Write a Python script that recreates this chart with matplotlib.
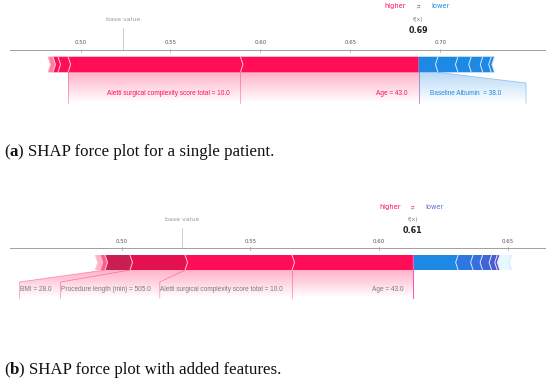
"""
Two SHAP force plots (single patient, then with added features) with
figure captions underneath each, drawn with plain matplotlib patches.
"""
import matplotlib
matplotlib.use("Agg")
import matplotlib.pyplot as plt
import numpy as np
from matplotlib.patches import Polygon

# ── data ──
TOP_FX = 0.688
TOP_BASE = 0.5238
TOP_TICKS = [0.50, 0.55, 0.60, 0.65, 0.70]
TOP_POS_LABELS = ["Age = 43.0", "Aletti surgical complexity score total = 10.0"]
TOP_POS_EFFECTS = [0.0991, 0.0958, 0.0056, 0.0028, 0.0028]
TOP_NEG_LABELS = ["Baseline Albumin  = 38.0"]
TOP_NEG_EFFECTS = [0.0107, 0.0111, 0.0074, 0.0064, 0.0047, 0.0018]

BOT_FX = 0.6132
BOT_BASE = 0.5235
BOT_TICKS = [0.50, 0.55, 0.60, 0.65]
BOT_POS_LABELS = ["Age = 43.0", "Aletti surgical complexity score total = 10.0",
                  "Procedure length (min) = 505.0", "BMI = 28.0"]
BOT_POS_EFFECTS = [0.0470, 0.0416, 0.0214, 0.0097, 0.0019, 0.0019]
BOT_NEG_LABELS = []
BOT_NEG_EFFECTS = [0.0176, 0.0058, 0.0037, 0.0035, 0.0022, 0.0010, 0.0045]

CAPTIONS = [("a", " SHAP force plot for a single patient."),
            ("b", " SHAP force plot with added features.")]

RED, BLUE = "#ff0d57", "#1e88e5"
W, H = 550, 385
LABEL_FONT = dict(family="Liberation Sans", fontsize=4.7)

fig = plt.figure(figsize=(W / 100, H / 100), dpi=100)
renderer = fig.canvas.get_renderer()


def make_axes(row0, row1, px0, v0, scale):
    # axes covering the full width; x in model-output units, y in pixel rows
    ax = fig.add_axes([0, 1 - row1 / H, 1, (row1 - row0) / H])
    ax.set_xlim(v0 - px0 / scale, v0 + (W - px0) / scale)
    ax.set_ylim(row1, row0)
    ax.axis("off")
    return ax


def draw_bars(ax, fx, effects, sign, colors, sep, g, scale):
    d = 2.5 / scale
    top, bot = g["bar"]
    mid = (top + bot) / 2
    pos = fx
    bounds = []
    for i, eff in enumerate(effects):
        nxt = pos - sign * eff
        tip = 0 if i == 0 else d
        if sign > 0:
            pts = [(nxt, top), (pos, top), (pos + tip, mid), (pos, bot),
                   (nxt, bot), (nxt + d, mid)]
        else:
            pts = [(pos, top), (nxt, top), (nxt - d, mid), (nxt, bot),
                   (pos, bot), (pos - tip, mid)]
        ax.add_patch(Polygon(pts, closed=True, facecolor=colors[i],
                             edgecolor="none", zorder=3))
        if i > 0:
            bounds.append(pos)
        pos = nxt
    bounds.append(pos)
    for b in bounds:
        ax.plot([b, b + sign * d, b], [top, mid, bot], color=sep, lw=0.7,
                zorder=4, solid_capstyle="butt")


def draw_labels(ax, fx, effects, labels, sign, color, tcolor, g, scale):
    off = g["off"] / scale
    pad = g["box_pad"] / scale
    _, bar_bot = g["bar"]
    slant, lab_y, lab_bot = g["slant"], g["lab"], g["lab_bot"]
    lc = dict(color=color, lw=0.6, alpha=0.4, zorder=2)
    ax.plot([fx, fx], [bar_bot, lab_bot], **lc)
    start, pre, box_end = fx, fx, fx
    inv = ax.transData.inverted()
    for eff, lab in zip(effects, labels):
        val = pre - sign * eff
        t = ax.text(start - sign * off, lab_y, lab, color=tcolor,
                    ha="right" if sign > 0 else "left", va="center", zorder=5,
                    **LABEL_FONT)
        bb = t.get_window_extent(renderer).transformed(inv)
        end_ = bb.x0 if sign > 0 else bb.x1
        if sign * (end_ - sign * pad) > sign * val:
            ax.plot([val, val], [bar_bot, lab_bot], **lc)
            start = box_end = val
        else:
            box_end = end_ - sign * pad
            ax.plot([val, box_end, box_end], [bar_bot, slant, lab_bot], **lc)
            start = box_end
        pre = val
    if not labels:
        return
    poly = Polygon([(fx, bar_bot), (pre, bar_bot), (box_end, slant),
                    (box_end, lab_bot), (fx, lab_bot)], closed=True,
                   facecolor="none", edgecolor="none")
    ax.add_patch(poly)
    rgb = matplotlib.colors.to_rgb(color)
    grad = np.zeros((60, 1, 4))
    grad[..., :3] = rgb
    grad[:, 0, 3] = np.linspace(0.32, 0.0, 60)
    im = ax.imshow(grad, extent=[min(fx, box_end), max(fx, box_end), lab_bot, bar_bot],
                   origin="upper", aspect="auto", interpolation="bilinear", zorder=1)
    im.set_clip_path(poly)


def force_panel(g, fx, base, ticks, pos_eff, pos_lab, neg_eff, neg_lab, st):
    scale = g["scale"]
    ax = make_axes(g["rows"][0], g["rows"][1], g["px0"], g["v0"], scale)
    ax.set_autoscale_on(False)
    # axis line + ticks
    ax.plot([10 / W, 545 / W], [g["axis"], g["axis"]], color="#a0a0a0", lw=0.7,
            transform=ax.get_yaxis_transform(), zorder=2)
    for tv in ticks:
        ax.plot([tv, tv], [g["axis"] - 1.5, g["axis"] + 1.5], color="#a0a0a0", lw=0.5)
        ax.text(tv, g["tick"], f"{tv:.2f}", fontsize=3.9, color="#555555",
                ha="center", va="center")
    # base value marker
    ax.plot([base, base], [g["base"] + 9, g["axis"]], color="#bbbbbb", lw=0.5, zorder=1)
    ax.text(base, g["base"], "base value", fontsize=4.5, color="#999999",
            ha="center", va="center")
    # f(x) and higher/lower legend
    ax.text(fx, g["fx"], "f(x)", fontsize=4.5, color="#888888", ha="center", va="center")
    ax.text(fx, g["val"], f"{fx:.2f}", fontsize=5.8, fontweight="bold", color="#222222",
            ha="center", va="center")
    hp = 12.5 / scale
    ax.text(fx - hp, g["hl"], "higher", fontsize=4.8, color=RED, ha="right", va="center")
    ax.text(fx + hp, g["hl"], "lower", fontsize=4.8, color=st["lower"], ha="left", va="center")
    ax.text(fx, g["hl"] - 1.2, "→", fontsize=3.0, color=RED, ha="center", va="center")
    ax.text(fx, g["hl"] + 1.4, "←", fontsize=3.0, color=BLUE, ha="center", va="center")
    # bars
    draw_bars(ax, fx, pos_eff, 1, st["pos_colors"], "#ffc3d5", g, scale)
    draw_bars(ax, fx, neg_eff, -1, st["neg_colors"], "#d1e6fa", g, scale)
    # labels with shaded connector areas
    draw_labels(ax, fx, pos_eff, pos_lab, 1, RED, st["pos_text"], g, scale)
    draw_labels(ax, fx, neg_eff, neg_lab, -1, BLUE, BLUE, g, scale)
    if st.get("fx_line"):
        ax.plot([fx, fx], [g["bar"][0], g["lab_bot"]], color=st["fx_line"], lw=0.7, zorder=5)
    return ax


top_geo = dict(rows=(0, 112), px0=260.4, v0=0.60, scale=1799.0, hl=6.3, base=19.3,
               fx=19.0, val=30.7, tick=42.7, axis=50.0, bar=(56.7, 72.3), slant=83.0,
               lab=93.3, lab_bot=103.0, off=11.0, box_pad=25.0)
bot_geo = dict(rows=(198, 312), px0=314.65, v0=0.575, scale=2572.0, hl=207.3,
               base=219.3, fx=219.0, val=230.7, tick=241.3, axis=248.3, bar=(255.0, 270.0),
               slant=282.0, lab=289.3, lab_bot=298.0, off=9.0, box_pad=0.5)

top_style = dict(pos_colors=[RED, RED, RED, RED, "#ff7fa3"],
                 neg_colors=[BLUE] * 6, pos_text=RED, lower=BLUE)
bot_style = dict(pos_colors=[RED, RED, "#e3124f", "#c81e50", "#ff5c8a", "#ffb3c9"],
                 neg_colors=[BLUE, "#2a78e0", "#3570dc", "#4064d8", "#4d5ad4", "#5a50d0",
                             "#e6f9ff"],
                 pos_text="#7a7a7a", lower="#5a6ee0", fx_line="#ff4fc0")

force_panel(top_geo, TOP_FX, TOP_BASE, TOP_TICKS, TOP_POS_EFFECTS, TOP_POS_LABELS,
            TOP_NEG_EFFECTS, TOP_NEG_LABELS, top_style)
force_panel(bot_geo, BOT_FX, BOT_BASE, BOT_TICKS, BOT_POS_EFFECTS, BOT_POS_LABELS,
            BOT_NEG_EFFECTS, BOT_NEG_LABELS, bot_style)

# ── captions: "(", bold letter, ") text" chained one after another ──
cap_font = dict(family="Liberation Serif", fontsize=12.2, color="#111111")
for (letter, rest), row in zip(CAPTIONS, [152, 370]):
    t0 = fig.text(4 / W, 1 - row / H, "(", va="center", ha="left", **cap_font)
    t1 = plt.annotate(letter, xy=(1, 0), xycoords=t0, va="bottom", ha="left",
                      fontweight="bold", **cap_font)
    plt.annotate(")" + rest, xy=(1, 0), xycoords=t1, va="bottom", ha="left", **cap_font)

fig.savefig("out.png", dpi=100)
